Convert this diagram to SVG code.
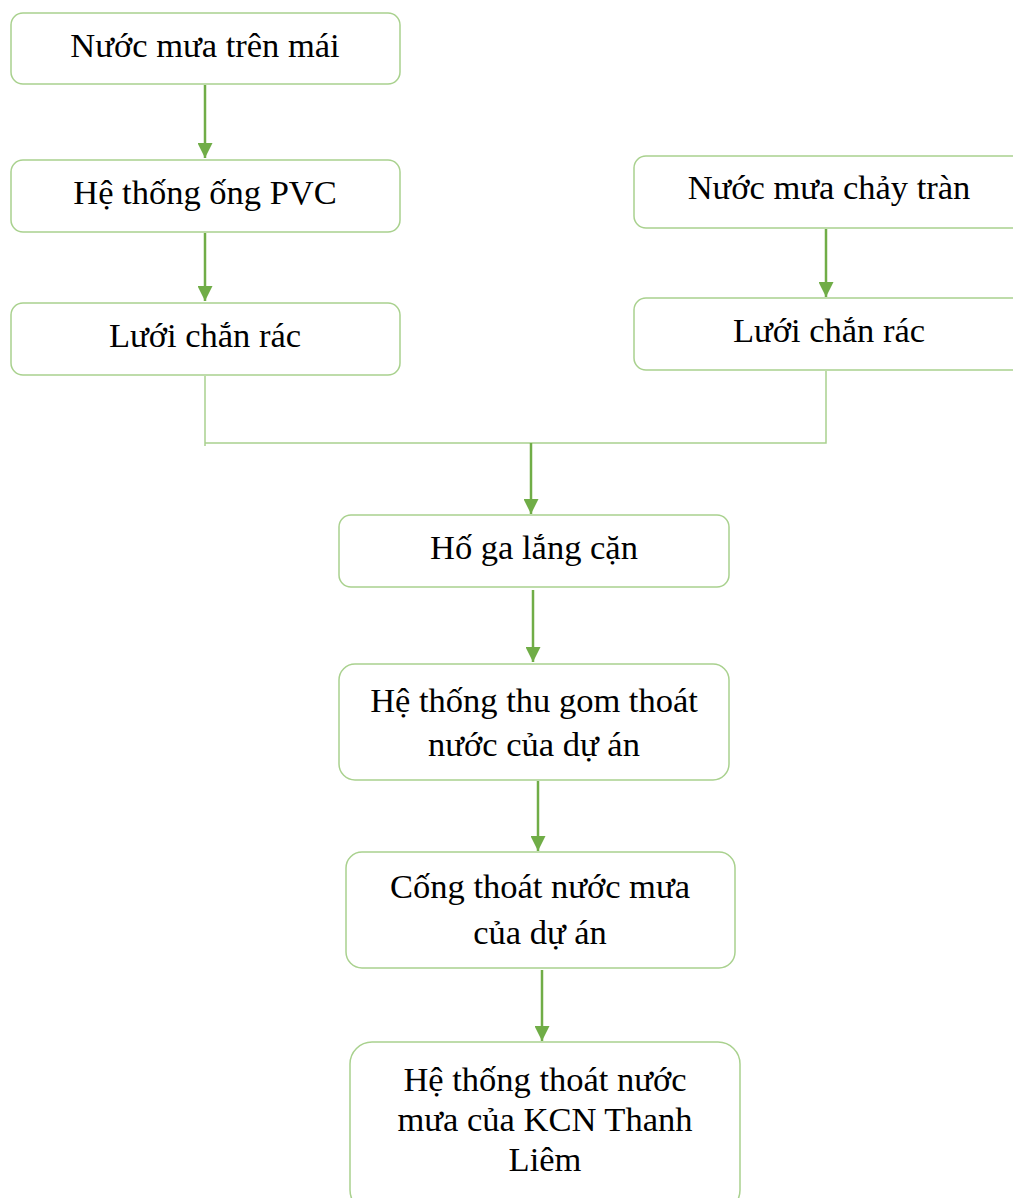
<svg xmlns="http://www.w3.org/2000/svg" width="1013" height="1198" viewBox="0 0 1013 1198">
  <style>
    .box { fill: #ffffff; stroke: #a9d18e; stroke-width: 1.5; }
    .lbl { font-family: "Liberation Serif", "Times New Roman", serif; font-size: 34.5px; fill: #000000; text-anchor: middle; }
    .arrow { stroke: #70ad47; stroke-width: 2.5; fill: none; marker-end: url(#head); }
    .join { stroke: #a9d18e; stroke-width: 1.5; fill: none; }
  </style>
  <defs>
    <marker id="head" viewBox="0 0 10 10" refX="10" refY="5" markerWidth="6" markerHeight="6" markerUnits="strokeWidth" orient="auto">
      <path d="M0,0 L10,5 L0,10 Z" fill="#70ad47"/>
    </marker>
  </defs>
  <rect width="1013" height="1198" fill="#ffffff"/>

  <!-- connectors -->
  <g id="connectors">
    <line class="arrow" x1="205" y1="85" x2="205" y2="158"/>
    <line class="arrow" x1="205" y1="233" x2="205" y2="301"/>
    <line class="arrow" x1="826" y1="229" x2="826" y2="297"/>
    <polyline class="join" points="205,376 205,446"/>
    <polyline class="join" points="205,443 826,443 826,371"/>
    <line class="arrow" x1="531" y1="443" x2="531" y2="514"/>
    <line class="arrow" x1="533" y1="590" x2="533" y2="662"/>
    <line class="arrow" x1="538" y1="781" x2="538" y2="851"/>
    <line class="arrow" x1="542" y1="970" x2="542" y2="1041"/>
  </g>

  <g id="n-roof">
    <rect class="box" x="11" y="13" width="389" height="71" rx="12"/>
    <text class="lbl" x="205" y="57">Nước mưa trên mái</text>
  </g>
  <g id="n-pvc">
    <rect class="box" x="11" y="160" width="389" height="72" rx="12"/>
    <text class="lbl" x="205" y="204">Hệ thống ống PVC</text>
  </g>
  <g id="n-screen-left">
    <rect class="box" x="11" y="303" width="389" height="72" rx="12"/>
    <text class="lbl" x="205" y="347">Lưới chắn rác</text>
  </g>
  <g id="n-runoff">
    <rect class="box" x="634" y="156" width="400" height="72" rx="12"/>
    <text class="lbl" x="829" y="199">Nước mưa chảy tràn</text>
  </g>
  <g id="n-screen-right">
    <rect class="box" x="634" y="298" width="400" height="72" rx="12"/>
    <text class="lbl" x="829" y="342">Lưới chắn rác</text>
  </g>
  <g id="n-pit">
    <rect class="box" x="339" y="515" width="390" height="72" rx="12"/>
    <text class="lbl" x="534" y="559">Hố ga lắng cặn</text>
  </g>
  <g id="n-collect">
    <rect class="box" x="339" y="664" width="390" height="116" rx="16"/>
    <text class="lbl" x="534" y="712">Hệ thống thu gom thoát</text>
    <text class="lbl" x="534" y="756">nước của dự án</text>
  </g>
  <g id="n-culvert">
    <rect class="box" x="346" y="852" width="389" height="116" rx="16"/>
    <text class="lbl" x="540" y="898">Cống thoát nước mưa</text>
    <text class="lbl" x="540" y="944">của dự án</text>
  </g>
  <g id="n-kcn">
    <rect class="box" x="350" y="1042" width="390" height="170" rx="22"/>
    <text class="lbl" x="545" y="1091">Hệ thống thoát nước</text>
    <text class="lbl" x="545" y="1131">mưa của KCN Thanh</text>
    <text class="lbl" x="545" y="1171">Liêm</text>
  </g>
</svg>
